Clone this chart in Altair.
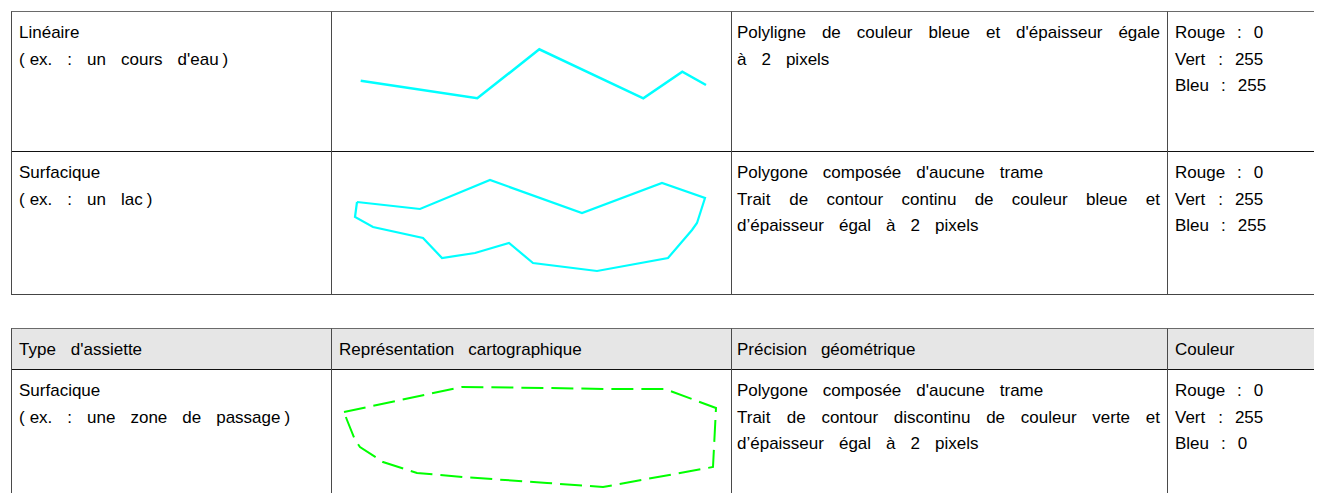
import altair as alt
import pandas as pd

# ---------------- data ----------------
HEADERS = ["Type d'assiette", "Représentation cartographique", "Précision géométrique", "Couleur"]

ROW_TYPES = [
    ["Linéaire", "(ex. : un cours d'eau)"],
    ["Surfacique", "(ex. : un lac)"],
    ["Surfacique", "(ex. : une zone de passage)"],
]
ROW_DESCR = [
    [("Polyligne de couleur bleue et d'épaisseur égale", True), ("à 2 pixels", False)],
    [("Polygone composée d'aucune trame", False),
     ("Trait de contour continu de couleur bleue et", True),
     ("d’épaisseur égal à 2 pixels", False)],
    [("Polygone composée d'aucune trame", False),
     ("Trait de contour discontinu de couleur verte et", True),
     ("d’épaisseur égal à 2 pixels", False)],
]
ROW_RGB = [
    ["Rouge : 0", "Vert : 255", "Bleu : 255"],
    ["Rouge : 0", "Vert : 255", "Bleu : 255"],
    ["Rouge : 0", "Vert : 255", "Bleu : 0"],
]

# shapes (picture coordinates)
RIVER_X = [360.7, 477.3, 539.3, 643.3, 682.3, 706.0]
RIVER_Y = [80.7, 98.3, 49.3, 98.3, 71.7, 85.0]

LAKE_X = [357, 420, 490, 582, 662, 705, 697, 692, 668, 597, 533, 509, 475, 442, 423, 373, 355, 357]
LAKE_Y = [202, 209, 180, 213, 183, 198, 223, 230, 258, 271, 263, 243, 253, 258, 238, 227, 217, 202]

ZONE_X = [344, 462, 548, 607, 665, 716, 713, 603, 547, 463, 417, 383, 360, 355, 347, 344]
ZONE_Y = [412, 387, 388, 389, 389, 408, 467, 487, 483, 477, 473, 462, 447, 440, 420, 412]

# ---------------- layout ----------------
FS = 17
FONT = "Liberation Sans"
ORIGIN = 8
PW, PH = 1306, 485

COL_X = [11.5, 331.5, 731.5, 1167.5]
TEXT_X = [19, 339, 737, 1175]
JUSTIFY_RIGHT = 1160
RIGHT = 1340
T1_TOP, T1_MID, T1_BOT = 11.5, 151.5, 294.5
T2_TOP, T2_HEAD, T2_BOT = 328.5, 369.5, 520
ROW_TOPS = [11, 151, 369]
HEADER_BASE = 355
FIRST_BASE = 27
LINE_STEP = 26.7

ARIAL = {
    'a': 556, 'b': 556, 'c': 500, 'd': 556, 'e': 556, 'f': 278, 'g': 556, 'h': 556, 'i': 222,
    'j': 222, 'k': 500, 'l': 222, 'm': 833, 'n': 556, 'o': 556, 'p': 556, 'q': 556, 'r': 333,
    's': 500, 't': 278, 'u': 556, 'v': 500, 'w': 722, 'x': 500, 'y': 500, 'z': 500,
    'é': 556, 'à': 556, 'è': 556, 'B': 667, 'C': 722, 'L': 556, 'P': 667, 'R': 722, 'S': 667,
    'T': 611, 'V': 667, "'": 191, '’': 222, '.': 278, ':': 278, '(': 333, ')': 333,
}


def tw(s):
    return sum(ARIAL.get(c, 556) for c in s) * FS / 1000.0


def tokens_of(line):
    out = []
    for w in line.split(" "):
        if w.startswith("(") and len(w) > 1:
            out += ["(", w[1:]]
        elif w.endswith(")") and len(w) > 1:
            out += [w[:-1], ")"]
        else:
            out.append(w)
    return out


def place(line, x0, y, justify=False, gap=14):
    toks = tokens_of(line)
    widths = [tw(t) for t in toks]
    rows = []
    if justify and len(toks) > 1:
        g = (JUSTIFY_RIGHT - x0 - sum(widths)) / (len(toks) - 1)
        gaps = [g] * (len(toks) - 1)
    else:
        gaps = []
        for a, b in zip(toks[:-1], toks[1:]):
            if a == "(":
                gaps.append(5)
            elif b == ")":
                gaps.append(4)
            else:
                gaps.append(gap)
    x = x0
    for i, t in enumerate(toks):
        rows.append({"x": x, "y": y, "t": t})
        if i < len(gaps):
            x += widths[i] + gaps[i]
    return rows


texts = []
for ci, h in enumerate(HEADERS):
    texts += place(h, TEXT_X[ci], HEADER_BASE, gap=14)
for r in range(3):
    base = ROW_TOPS[r] + FIRST_BASE
    for k, line in enumerate(ROW_TYPES[r]):
        texts += place(line, TEXT_X[0], base + k * LINE_STEP, gap=15 if k else 14)
    for k, (line, just) in enumerate(ROW_DESCR[r]):
        texts += place(line, TEXT_X[2], base + k * LINE_STEP, justify=just, gap=15)
    for k, line in enumerate(ROW_RGB[r]):
        texts += place(line, TEXT_X[3], base + k * LINE_STEP, gap=12)
text_df = pd.DataFrame(texts)

GRAY = "#6a6a6a"
DARK = "#111111"
VCOL = "#4a4a4a"
rules = [
    {"x": 11, "x2": RIGHT, "y": T1_TOP, "y2": T1_TOP, "c": GRAY},
    {"x": 11, "x2": RIGHT, "y": T1_MID, "y2": T1_MID, "c": DARK},
    {"x": 11, "x2": RIGHT, "y": T1_BOT, "y2": T1_BOT, "c": "#444444"},
    {"x": 11, "x2": RIGHT, "y": T2_TOP, "y2": T2_TOP, "c": GRAY},
    {"x": 11, "x2": RIGHT, "y": T2_HEAD, "y2": T2_HEAD, "c": DARK},
]
for cx in COL_X:
    rules.append({"x": cx, "x2": cx, "y": T1_TOP, "y2": T1_BOT, "c": VCOL})
    rules.append({"x": cx, "x2": cx, "y": T2_TOP, "y2": T2_BOT, "c": VCOL})
rule_df = pd.DataFrame(rules)

header_df = pd.DataFrame([{"x": 11.5, "x2": RIGHT, "y": T2_TOP, "y2": T2_HEAD}])

river_df = pd.DataFrame({"x": RIVER_X, "y": RIVER_Y, "i": range(len(RIVER_X))})
lake_df = pd.DataFrame({"x": LAKE_X, "y": LAKE_Y, "i": range(len(LAKE_X))})
zone_df = pd.DataFrame({"x": ZONE_X, "y": ZONE_Y, "i": range(len(ZONE_X))})

xs = alt.Scale(domain=[ORIGIN, ORIGIN + PW], nice=False, zero=False)
ys = alt.Scale(domain=[ORIGIN, ORIGIN + PH], nice=False, zero=False, reverse=True)
X = alt.X("x:Q", scale=xs, axis=None)
Y = alt.Y("y:Q", scale=ys, axis=None)

header = alt.Chart(header_df).mark_rect(color="#e6e6e6").encode(
    x=X, x2="x2:Q", y=Y, y2="y2:Q")

grid = alt.Chart(rule_df).mark_rule(strokeWidth=1).encode(
    x=X, x2="x2:Q", y=Y, y2="y2:Q", color=alt.Color("c:N", scale=None))

river = alt.Chart(river_df).mark_line(color="#00ffff", strokeWidth=2.5, strokeJoin="miter").encode(
    x=X, y=Y, order="i:Q")
lake = alt.Chart(lake_df).mark_line(color="#00ffff", strokeWidth=2.2, strokeJoin="miter").encode(
    x=X, y=Y, order="i:Q")
zone = alt.Chart(zone_df).mark_line(color="#00ff00", strokeWidth=2, strokeDash=[22, 8]).encode(
    x=X, y=Y, order="i:Q")

text = alt.Chart(text_df).mark_text(
    align="left", baseline="alphabetic", font=FONT, fontSize=FS, color="#000000"
).encode(x=X, y=Y, text="t:N")

chart = alt.layer(header, grid, river, lake, zone, text).properties(
    width=PW, height=PH, padding=0, autosize=alt.AutoSizeParams(type="none")
).configure_view(stroke=None)

chart.save("out.html", embed_options={"renderer": "svg", "actions": False})
